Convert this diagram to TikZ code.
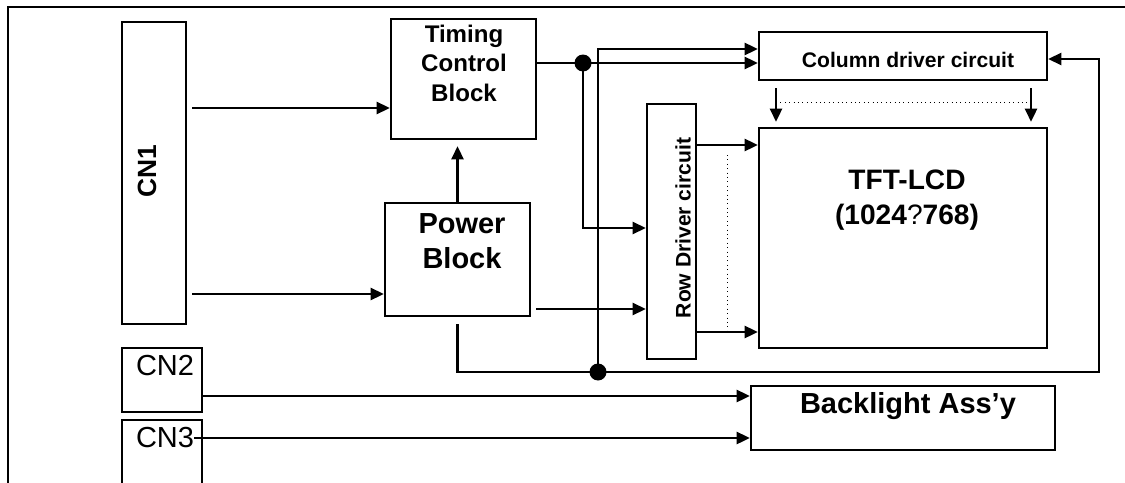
\documentclass[tikz,border=0pt]{standalone}
\usepackage{fontspec}
\setmainfont{Liberation Sans}
\usetikzlibrary{arrows.meta}
\tikzset{
  blockbox/.style={draw=black, line width=1.5pt, inner sep=0pt},
  wire/.style={line width=1.2pt, draw=black},
  arrowwire/.style={wire, -{Triangle[length=7.5pt,width=7pt]}},
  dotline/.style={line width=0.5pt, dotted},
  boldlabel/.style={inner sep=0pt, align=center},
  plainlabel/.style={inner sep=0pt},
}
\newcommand{\fsz}[2]{\fontsize{#1}{#2}\selectfont}

\begin{document}
\begin{tikzpicture}[x=0.02cm, y=-0.02cm]
\useasboundingbox (0,0) rectangle (1125,483);
\clip (0,0) rectangle (1125,483);
\draw[line width=1.5pt] (8,490) -- (8,7) -- (1130,7);
\node[blockbox, minimum width=1.28cm, minimum height=6.04cm] (cnone) at (154,173) {};
\node[blockbox, minimum width=2.9cm, minimum height=2.4cm] (timing) at (463.5,79) {};
\node[blockbox, minimum width=2.9cm, minimum height=2.26cm] (power) at (457.5,259.5) {};
\node[blockbox, minimum width=5.76cm, minimum height=0.96cm] (coldrv) at (903,56) {};
\node[blockbox, minimum width=0.98cm, minimum height=5.1cm] (rowdrv) at (671.5,231.5) {};
\node[blockbox, minimum width=5.76cm, minimum height=4.4cm] (lcd) at (903,238) {};
\node[blockbox, minimum width=6.08cm, minimum height=1.28cm] (backlight) at (903,418) {};
\node[blockbox, minimum width=1.6cm, minimum height=1.28cm] (cntwo) at (162,380) {};
\node[blockbox, minimum width=1.6cm, minimum height=1.6cm] (cnthree) at (162,460) {};
\node[boldlabel, rotate=90, font=\bfseries\fsz{15}{17}] (cnonetext) at (147,171) {CN1};
\node[boldlabel, font=\bfseries\fsz{13.7}{16.8}] (timingtext) at (464,63) {Timing\\Control\\Block};
\node[boldlabel, font=\bfseries\fsz{16.5}{20}] (powertext) at (462,241) {Power\\Block};
\node[boldlabel, font=\bfseries\fsz{12}{14}, anchor=base] (coldrvtext) at (908,68) {Column driver circuit};
\node[boldlabel, rotate=90, font=\bfseries\fsz{12}{14}] (rowdrvtext) at (683,228) {Row Driver circuit};
\node[boldlabel, font=\bfseries\fsz{16}{20}] (lcdtext) at (907,200) {TFT-LCD\\(1024{\mdseries ?}768)};
\node[boldlabel, font=\bfseries\fsz{16.5}{20}, anchor=base] (backlighttext) at (908,413) {Backlight Ass’y};
\node[plainlabel, font=\fsz{16.5}{20}, anchor=base] (cntwotext) at (165,375) {CN2};
\node[plainlabel, font=\fsz{16.5}{20}, anchor=base] (cnthreetext) at (165,447) {CN3};
\coordinate (jtop) at (583,63);
\coordinate (jbot) at (598,372);
\coordinate (fbcorner) at (1099,372);
\draw[arrowwire, shorten <=0.1cm] (cnone.east |- 0,108) -- (timing.west |- 0,108);
\draw[arrowwire, shorten <=0.1cm] (cnone.east |- 0,294) -- (power.west |- 0,294);
\draw[arrowwire, shorten >=0.12cm] (power.north) -- (power.north |- timing.south);
\draw[arrowwire, shorten <=0.1cm] (power.east |- 0,309) -- (rowdrv.west |- 0,309);
\draw[arrowwire] (timing.east |- jtop) -- (jtop) -- (coldrv.west |- jtop);
\draw[arrowwire] (jtop) -- (jtop |- 0,228) -- (rowdrv.west |- 0,228);
\draw[arrowwire] (jbot) -- (jbot |- 0,49) -- (coldrv.west |- 0,49);
\draw[arrowwire, shorten <=0.14cm] (power.south) -- (power.south |- jbot) -- (fbcorner) -- (fbcorner |- 0,59) -- (coldrv.east |- 0,59);
\fill (jtop) circle[radius=0.17cm];
\fill (jbot) circle[radius=0.17cm];
\draw[arrowwire] (rowdrv.east |- 0,145) -- (lcd.west |- 0,145);
\draw[arrowwire] (rowdrv.east |- 0,332) -- (lcd.west |- 0,332);
\draw[dotline] (727,155) -- (727,332);
\draw[arrowwire, shorten <=0.14cm, shorten >=0.1cm] (coldrv.south -| 776,0) -- (lcd.north -| 776,0);
\draw[arrowwire, shorten <=0.14cm, shorten >=0.1cm] (coldrv.south -| 1031,0) -- (lcd.north -| 1031,0);
\draw[dotline] (776,102) -- (1031,102);
\draw[arrowwire] (cntwo.east |- 0,396) -- (backlight.west |- 0,396);
\draw[arrowwire] (cnthreetext.east |- 0,438) -- (backlight.west |- 0,438);
\end{tikzpicture}
\end{document}
